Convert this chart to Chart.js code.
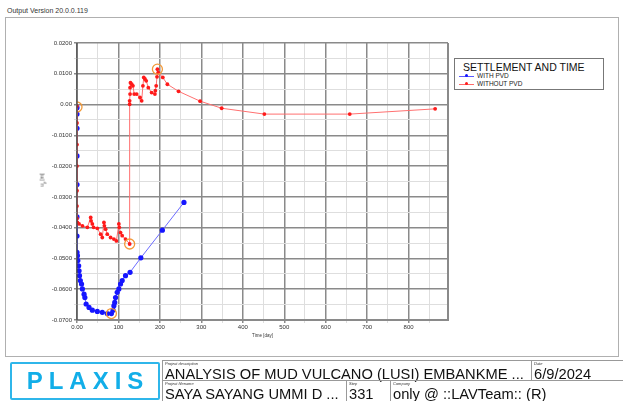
<!DOCTYPE html>
<html>
<head>
<meta charset="utf-8">
<script src="https://cdn.jsdelivr.net/npm/chart.js@4"></script>
<style>
  html, body { margin: 0; padding: 0; background: #fff; }
  body { width: 623px; height: 401px; position: relative; overflow: hidden; font-family: "Liberation Sans", Arial, sans-serif; }
  #version { position: absolute; left: 7px; top: 7px; font-size: 7px; color: #333; }
  #frame { position: absolute; left: 5px; top: 17px; width: 612px; height: 338px; border: 1px solid #b0b0b0; }
  #wrap { position: absolute; left: 0; top: 0; width: 623px; height: 401px; }
  #ytitle { position: absolute; left: 36px; top: 176px; font-size: 5px; color: #333; transform: rotate(-90deg); transform-origin: center; }
  #legend { position: absolute; left: 454px; top: 58px; width: 148px; height: 30px; border: 1px solid #777; background: #fff; }
  #legend .ttl { position: absolute; left: 8px; top: 2px; font-size: 10.5px; color: #111; white-space: nowrap; }
  #legend .row { position: absolute; left: 4px; font-size: 6.5px; color: #222; white-space: nowrap; }
  #legend .row i { display: inline-block; position: relative; width: 15px; height: 1px; vertical-align: middle; margin-right: 3px; }
  #legend .row i b { position: absolute; left: 6px; top: -1.5px; width: 3px; height: 3px; border-radius: 50%; }
  #logo { position: absolute; left: 10px; top: 362px; width: 146px; height: 34px; border: 2px solid #2fb6ea; border-radius: 2px; color: #12aee8; font-weight: bold; font-size: 24px; letter-spacing: 6px; text-indent: 6px; text-align: center; line-height: 34px; }
  .cell { position: absolute; border-left: 1px solid #999; border-top: 1px solid #999; }
  .cell .lb { position: absolute; left: 2px; top: 0px; font-size: 4px; font-style: italic; color: #333; }
  .cell .val { position: absolute; left: 2px; top: 5px; font-size: 14.7px; color: #111; white-space: nowrap; }
</style>
</head>
<body>
<div id="version">Output Version 20.0.0.119</div>
<div id="frame"></div>
<div id="wrap"><canvas id="chart" width="623" height="401"></canvas></div>
<div id="ytitle">u<sub>y</sub> [m]</div>
<div id="legend">
  <div class="ttl">SETTLEMENT AND TIME</div>
  <div class="row" style="top:13px"><i style="background:#5a5aff"><b style="background:#1515ff"></b></i>WITH PVD</div>
  <div class="row" style="top:21px"><i style="background:#ff6b6b"><b style="background:#ff1a1a"></b></i>WITHOUT PVD</div>
</div>
<div id="logo">PLAXIS</div>
<div class="cell" style="left:162px; top:360px; width:368px; height:20px;"><span class="lb">Project description</span><span class="val">ANALYSIS OF MUD VULCANO (LUSI) EMBANKME ...</span></div>
<div class="cell" style="left:531px; top:360px; width:92px; height:20px;"><span class="lb">Date</span><span class="val">6/9/2024</span></div>
<div class="cell" style="left:162px; top:380px; width:184px; height:21px;"><span class="lb">Project filename</span><span class="val">SAYA SAYANG UMMI D ...</span></div>
<div class="cell" style="left:346px; top:380px; width:44px; height:21px;"><span class="lb">Step</span><span class="val">331</span></div>
<div class="cell" style="left:390px; top:380px; width:233px; height:21px;"><span class="lb">Company</span><span class="val">only @ ::LAVTeam:: (R)</span></div>

<script>
// WITH PVD
const withPvdDays = [0, 0, 0, 0, 0, 0, 0, 0, 1, 2, 4, 5, 6, 8, 11, 13, 17, 19, 22, 29, 37, 49, 61, 73, 83,
    87, 89, 91, 93, 97, 101, 105, 109, 117, 128, 154, 206, 258];
const withPvdUy = [-0.0010, -0.0031, -0.0077, -0.0167, -0.0260, -0.0365, -0.0427, -0.0480, -0.0491, -0.0507,
    -0.0524, -0.0540, -0.0556, -0.0572, -0.0583, -0.0599, -0.0616, -0.0627, -0.0648, -0.0659, -0.0668,
    -0.0672, -0.0675, -0.0679, -0.0679, -0.0668, -0.0654, -0.0643, -0.0627, -0.0610, -0.0599, -0.0583,
    -0.0572, -0.0556, -0.0545, -0.0498, -0.0408, -0.0318];

// WITHOUT PVD
const withoutPvdDays = [0, 0, 0, 0, 0, 0, 0, 1, 5, 13, 25, 33, 34, 37, 40, 49, 57, 61, 65, 66, 69, 73, 81, 89,
    95, 101, 102, 105, 109, 117, 127, 127, 127, 128, 128, 129, 132, 135, 138, 144, 152, 156, 159, 161, 164,
    167, 172, 180, 188, 189, 191, 193, 194, 196, 207, 218, 245, 297, 349, 452, 658, 864];
const withoutPvdUy = [-0.0005, -0.0060, -0.0130, -0.0200, -0.0280, -0.0330, -0.0370, -0.0383, -0.0388, -0.0394,
    -0.0399, -0.0367, -0.0378, -0.0388, -0.0399, -0.0402, -0.0421, -0.0432, -0.0383, -0.0394, -0.0405,
    -0.0421, -0.0432, -0.0437, -0.0443, -0.0388, -0.0399, -0.0416, -0.0426, -0.0437, -0.0453, 0.0001,
    0.0012, 0.0034, 0.0055, 0.0071, 0.0066, 0.0061, 0.0034, 0.0034, 0.0023, 0.0012, 0.0061, 0.0088,
    0.0083, 0.0077, 0.0055, 0.0039, 0.0034, 0.0045, 0.0061, 0.0090, 0.0115, 0.0104, 0.0088, 0.0066,
    0.0043, 0.0011, -0.0012, -0.0031, -0.0031, -0.0014];

// highlighted (circled) points
const markDays = [0, 83, 127, 194];
const markUy = [-0.0008, -0.0679, -0.0453, 0.0115];

const xTicksMax = 895;

function toPoints(xs, ys) {
    return xs.map((x, i) => ({ x: x, y: ys[i] }));
}

const plotFrame = {
    id: 'plotFrame',
    afterDraw(chart) {
        const a = chart.chartArea;
        const c = chart.ctx;
        c.save();
        c.strokeStyle = '#8a8a8a';
        c.lineWidth = 2;
        c.beginPath();
        c.moveTo(a.right, a.top);
        c.lineTo(a.right, a.bottom);
        c.lineTo(a.left, a.bottom);
        c.stroke();
        c.strokeStyle = '#444';
        c.lineWidth = 1.2;
        c.beginPath();
        c.moveTo(a.left, a.top);
        c.lineTo(a.left, a.bottom);
        c.stroke();
        c.restore();
    }
};

const ctx = document.getElementById('chart').getContext('2d');
new Chart(ctx, {
    type: 'scatter',
    data: {
        datasets: [
            {
                label: 'circled',
                data: toPoints(markDays, markUy),
                showLine: false,
                pointRadius: 5,
                pointBorderWidth: 1.3,
                pointBorderColor: '#f39a3a',
                pointBackgroundColor: 'rgba(0,0,0,0)'
            },
            {
                label: 'WITHOUT PVD',
                data: toPoints(withoutPvdDays, withoutPvdUy),
                showLine: true,
                borderColor: '#ff7070',
                borderWidth: 1,
                pointRadius: 1.9,
                pointBorderWidth: 0,
                pointBackgroundColor: '#ff1a1a'
            },
            {
                label: 'WITH PVD',
                data: toPoints(withPvdDays, withPvdUy),
                showLine: true,
                borderColor: '#6a6aff',
                borderWidth: 1,
                pointRadius: 2.6,
                pointBorderWidth: 0,
                pointBackgroundColor: '#1515ff'
            }
        ]
    },
    options: {
        responsive: false,
        animation: false,
        layout: { padding: { left: 20, top: 43, right: 175, bottom: 59 } },
        plugins: { legend: { display: false }, tooltip: { enabled: false } },
        scales: {
            x: {
                type: 'linear',
                min: 0,
                max: xTicksMax,
                afterFit: (s) => { s.height = 22; },
                border: { display: false },
                grid: {
                    color: (c) => (Math.round(c.tick.value) % 100 === 0 ? '#8a8a8a' : '#dedede'),
                    lineWidth: (c) => (Math.round(c.tick.value) % 100 === 0 ? 1.5 : 1),
                    tickLength: 3
                },
                ticks: {
                    stepSize: 50,
                    includeBounds: false,
                    maxRotation: 0,
                    autoSkip: false,
                    padding: 1,
                    color: '#333',
                    font: { family: 'Liberation Sans', size: 6 },
                    callback: (v) => (v === 0 ? '0.00' : (v % 100 === 0 ? String(v) : ''))
                },
                title: {
                    display: true,
                    text: 'Time [day]',
                    color: '#333',
                    font: { family: 'Liberation Sans', size: 4.5 },
                    padding: { top: 2 }
                }
            },
            y: {
                type: 'linear',
                min: -0.07,
                max: 0.02,
                afterFit: (s) => { s.width = 57; },
                border: { display: false },
                grid: {
                    color: (c) => (Math.round(c.tick.value / 0.005) % 2 === 0 ? '#8a8a8a' : '#dedede'),
                    lineWidth: (c) => (Math.round(c.tick.value / 0.005) % 2 === 0 ? 1.5 : 1),
                    tickLength: 3
                },
                ticks: {
                    stepSize: 0.005,
                    includeBounds: false,
                    autoSkip: false,
                    padding: 2,
                    color: '#333',
                    font: { family: 'Liberation Sans', size: 6 },
                    callback: (v) => {
                        const k = Math.round(v / 0.005);
                        if (k % 2 !== 0) return '';
                        if (k === 0) return '0.00';
                        return (k * 0.005).toFixed(4);
                    }
                }
            }
        }
    },
    plugins: [plotFrame]
});
</script>
</body>
</html>
